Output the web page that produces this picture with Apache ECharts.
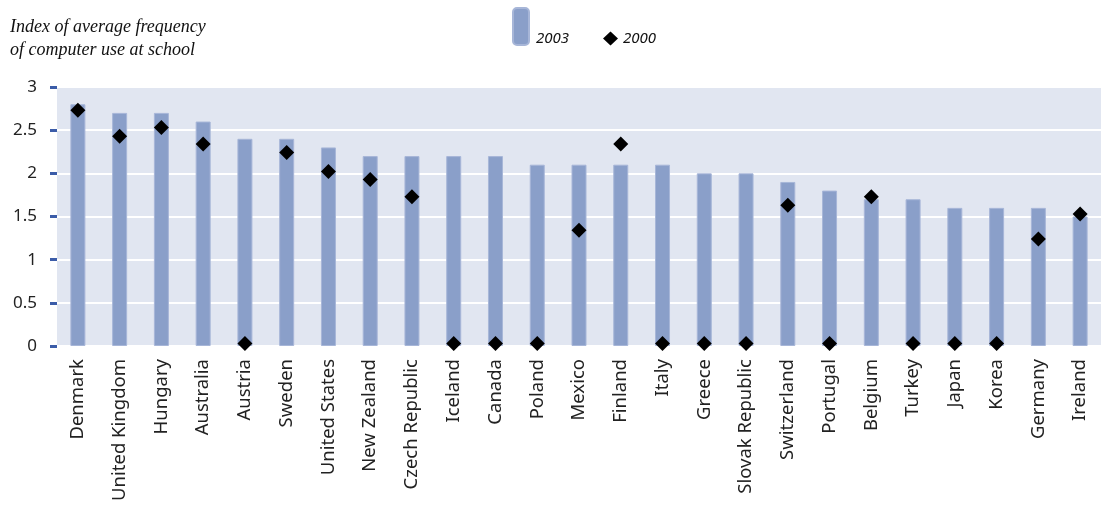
<!DOCTYPE html>
<html><head><meta charset="utf-8">
<script src="https://cdn.jsdelivr.net/npm/echarts@6/dist/echarts.min.js"></script>
<style>html,body{margin:0;padding:0;background:#fff}#c{width:1101px;height:507px}</style>
</head><body><div id="c"></div>
<script>
const categories = ["Denmark","United Kingdom","Hungary","Australia","Austria","Sweden","United States","New Zealand","Czech Republic","Iceland","Canada","Poland","Mexico","Finland","Italy","Greece","Slovak Republic","Switzerland","Portugal","Belgium","Turkey","Japan","Korea","Germany","Ireland"];
const values2003 = [2.8,2.7,2.7,2.6,2.4,2.4,2.3,2.2,2.2,2.2,2.2,2.1,2.1,2.1,2.1,2.0,2.0,1.9,1.8,1.7,1.7,1.6,1.6,1.6,1.5];
const values2000 = [2.73,2.43,2.53,2.34,0.03,2.24,2.02,1.93,1.73,0.03,0.03,0.03,1.34,2.34,0.03,0.03,0.03,1.63,0.03,1.73,0.03,0.03,0.03,1.24,1.53];
const yTicks = [0,0.5,1,1.5,2,2.5,3];

const chart = echarts.init(document.getElementById('c'));
const lblFont = '"Noto Sans", sans-serif';
chart.setOption({
  animation: false,
  backgroundColor: '#fff',
  grid: { left: 57, right: 0, top: 87, bottom: 161, show: true, backgroundColor: '#e1e6f1', borderWidth: 0 },
  legend: [
    { data: ['2003'], left: 512, top: 7, padding: 0, itemWidth: 16, itemHeight: 37, itemGap: 4,
      formatter: '{a|{name}}',
      textStyle: { rich: { a: { fontFamily: lblFont, fontStyle: 'italic', fontSize: 15, color: '#111', padding: [25,0,0,2] } } } },
    { data: [{name: '2000', icon: 'diamond'}], left: 603, top: 31, padding: 0, itemWidth: 15, itemHeight: 14, itemGap: 3,
      itemStyle: { opacity: 1 },
      textStyle: { fontFamily: lblFont, fontStyle: 'italic', fontSize: 15, color: '#111' } }
  ],
  graphic: [
    { type: 'text', left: 10, top: 16, style: { text: 'Index of average frequency\nof computer use at school', fontFamily: '"Liberation Serif", serif', fontStyle: 'italic', fontSize: 18, lineHeight: 23, fill: '#111' } }
  ],
  xAxis: {
    type: 'category', data: categories,
    axisLine: { show: false }, axisTick: { show: false },
    axisLabel: { rotate: 90, interval: 0, margin: 13, fontFamily: lblFont, fontSize: 18.5, color: '#222' }
  },
  yAxis: {
    type: 'value', min: 0, max: 3, interval: 0.5,
    axisLine: { show: false },
    axisTick: { show: true, length: 7, lineStyle: { color: '#3b5ca8', width: 3 } },
    axisLabel: { margin: 20, fontFamily: lblFont, fontSize: 17, color: '#222',
      formatter: v => (yTicks.indexOf(v) >= 0 ? String(v) : '') },
    splitLine: { show: true, lineStyle: { color: '#ffffff', width: 2 } }
  },
  series: [
    { name: '2003', type: 'bar', data: values2003, barWidth: 15,
      itemStyle: { color: '#8a9fc9', borderColor: '#a7b6d8', borderWidth: 1 } },
    { name: '2000', type: 'scatter', data: values2000, symbol: 'diamond', symbolSize: 15, clip: false,
      itemStyle: { color: '#000', opacity: 1 }, z: 5 }
  ]
});
</script></body></html>
